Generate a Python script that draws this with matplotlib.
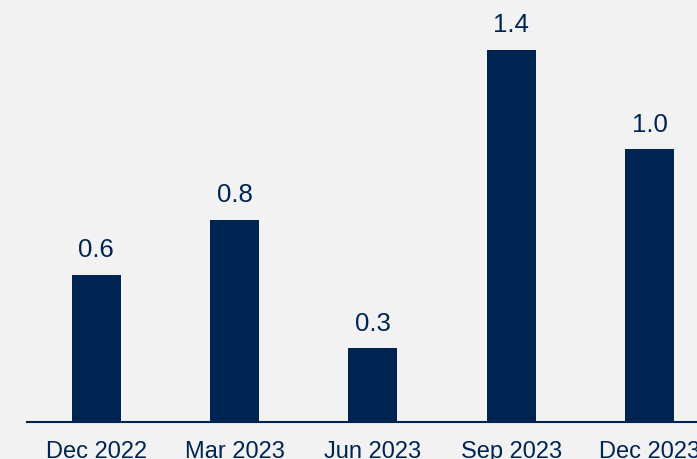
import matplotlib
matplotlib.use('Agg')
import matplotlib.pyplot as plt

QUARTERS = ['Dec 2022', 'Mar 2023', 'Jun 2023', 'Sep 2023', 'Dec 2023']
VALUES = [0.56, 0.77, 0.28, 1.42, 1.04]

NAVY = '#002452'
BACKGROUND = '#f2f2f2'

plt.rcParams['font.family'] = ['Liberation Sans', 'DejaVu Sans']

fig = plt.figure(figsize=(6.97, 4.59), dpi=100, facecolor=BACKGROUND)
ax = fig.add_axes([27 / 697, 37.3 / 459, 691.9 / 697, 419.2 / 459])
ax.set_facecolor(BACKGROUND)

positions = range(len(QUARTERS))
bars = ax.bar(positions, VALUES, width=0.354, color=NAVY)
ax.bar_label(bars, labels=[f'{v:.1f}' for v in VALUES], padding=9,
             fontsize=18.5, color=NAVY)

ax.set_xlim(-0.5, len(QUARTERS) - 0.5)
ax.set_ylim(0, 1.6)
ax.set_xticks(list(positions))
ax.set_xticklabels(QUARTERS, fontsize=17, color=NAVY)
ax.tick_params(axis='x', length=0, pad=14)
ax.set_yticks([])

for side in ['top', 'right', 'left']:
    ax.spines[side].set_visible(False)
ax.spines['bottom'].set_color(NAVY)
ax.spines['bottom'].set_linewidth(1.5)

fig.savefig('out.png', dpi=100, facecolor=BACKGROUND)
